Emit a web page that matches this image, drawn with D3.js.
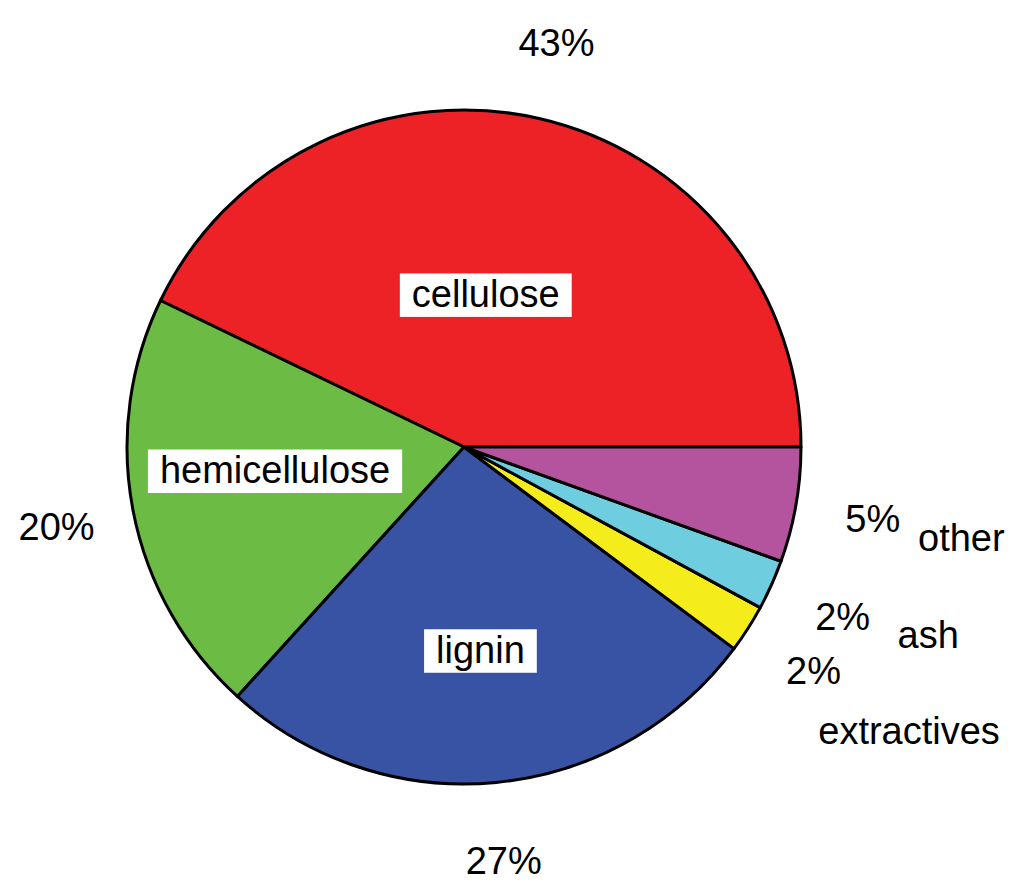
<!DOCTYPE html>
<html>
<head>
<meta charset="utf-8">
<script src="https://cdn.jsdelivr.net/npm/d3@7"></script>
<style>
  html, body { margin: 0; padding: 0; background: #fff; }
  svg { display: block; }
  text { font-family: "Liberation Sans", Arial, sans-serif; fill: #000; }
</style>
</head>
<body>
<svg id="chart" width="1024" height="896"></svg>
<script>
// ---- data ----
const categories = ["cellulose", "hemicellulose", "lignin", "extractives", "ash", "other"];
const values = [42.8, 20.4, 26.5, 2.3, 2.4, 5.5];
const percentLabels = ["43%", "20%", "27%", "2%", "2%", "5%"];
const colors = ["#EC2227", "#6CBB45", "#3953A4", "#F5EC1B", "#6FCDE0", "#B4549E"];

// ---- layout ----
const cx = 464, cy = 447, radius = 337;
const pctRadius = 415;
const fontSize = 38;
// name label placement: [radius along mid-angle, dx, dy (to baseline), boxed]
const namePlacement = [
  [156, -13, 12, true],
  [192.5, 0, -0.7, true],
  [203, -3, 13.7, true],
  [415, 95.5, 73, false],
  [415, 85.5, 31, false],
  [415, 88.5, 32.7, false]
];

const data = categories.map((c, i) => ({ name: c, value: values[i], pct: percentLabels[i], color: colors[i], place: namePlacement[i] }));

const svg = d3.select("#chart");
const g = svg.append("g").attr("transform", `translate(${cx},${cy})`);

// counterclockwise from 3 o'clock
const pie = d3.pie().sort(null).value(d => d.value)
  .startAngle(Math.PI / 2).endAngle(Math.PI / 2 - 2 * Math.PI);
const arcs = pie(data);
const arc = d3.arc().innerRadius(0).outerRadius(radius);

g.selectAll("path.slice").data(arcs).join("path")
  .attr("class", "slice")
  .attr("d", arc)
  .attr("fill", d => d.data.color)
  .attr("stroke", "#000")
  .attr("stroke-width", 3)
  .attr("stroke-linejoin", "round");

function polar(d, r) {
  const a = (d.startAngle + d.endAngle) / 2;
  return [r * Math.sin(a), -r * Math.cos(a)];
}

// percent labels
g.selectAll("text.pct").data(arcs).join("text")
  .attr("class", "pct")
  .attr("x", d => polar(d, pctRadius)[0])
  .attr("y", d => polar(d, pctRadius)[1] + 13.5)
  .attr("text-anchor", "middle")
  .attr("font-size", fontSize)
  .text(d => d.data.pct);

// name labels
const names = g.selectAll("g.name").data(arcs).join("g").attr("class", "name")
  .attr("transform", d => {
    const p = d.data.place;
    const [x, y] = polar(d, p[0]);
    return `translate(${x + p[1]},${y + p[2]})`;
  });

names.each(function(d) {
  const sel = d3.select(this);
  const t = sel.append("text")
    .attr("x", 0).attr("y", 0)
    .attr("text-anchor", "middle")
    .attr("font-size", fontSize)
    .text(d.data.name);
  if (d.data.place[3]) {
    const w = t.node().getComputedTextLength();
    sel.insert("rect", "text")
      .attr("x", -w / 2 - 12)
      .attr("y", -33.5)
      .attr("width", w + 24)
      .attr("height", 43.5)
      .attr("fill", "#fff");
  }
});
</script>
</body>
</html>
